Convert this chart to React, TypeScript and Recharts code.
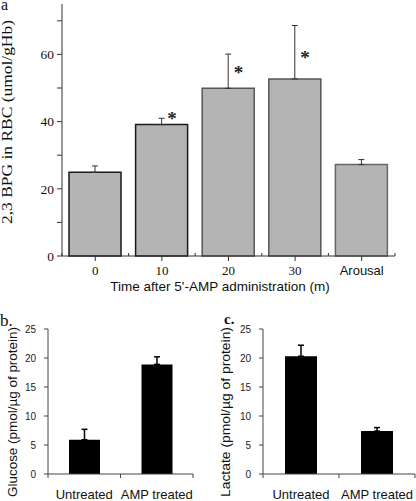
import { Bar, BarChart, Cell, ErrorBar, ReferenceDot, XAxis, YAxis } from 'recharts'

const serif = '"Liberation Serif", "Times New Roman", serif'
const sans = '"Liberation Sans", Arial, sans-serif'

// panel a: 2,3 BPG after 5'-AMP
const timeLabels = ['0', '10', '20', '30', 'Arousal']
const bpgValues = [24.9, 39.1, 49.9, 52.7, 27.2]
const bpgErrors = [1.9, 1.9, 10.2, 15.9, 1.5]
const bpgTicks = [0, 10, 20, 30, 40, 50, 60, 70]
const starLabels = ['10', '20', '30']
const starLevels = [41.9, 55.6, 60.1]

// panels b and c
const groupLabels = ['Untreated', 'AMP treated']
const glucoseValues = [5.9, 18.9]
const glucoseErrors = [1.8, 1.3]
const lactateValues = [20.3, 7.4]
const lactateErrors = [1.9, 0.6]
const pmolTicks = [0, 5, 10, 15, 20, 25]

const bpgOutline = ['#1a1a1a', '#1a1a1a', '#555', '#555', '#666']

// each category sits in the middle of a unit slot on a 0..n axis
const slot = (i: number) => i + 0.5
const bpgData = timeLabels.map((name, i) => ({ name, pos: slot(i), value: bpgValues[i], err: [0, bpgErrors[i]] }))
const glucoseData = groupLabels.map((name, i) => ({ name, pos: slot(i), value: glucoseValues[i], err: [0, glucoseErrors[i]] }))
const lactateData = groupLabels.map((name, i) => ({ name, pos: slot(i), value: lactateValues[i], err: [0, lactateErrors[i]] }))

// whole numbers = slot edges, halves = slot centres
const halfSteps = (n: number) => Array.from({ length: 2 * n + 1 }, (_, i) => i / 2)

function TimeTick(props: any) {
  const { x, y, payload } = props
  const v = payload.value
  if (Number.isInteger(v)) return <line x1={x} x2={x} y1={y} y2={y - 3} stroke="#333" />
  const label = timeLabels[Math.floor(v)]
  const numeric = /^\d+$/.test(label)
  return (
    <g>
      <line x1={x} x2={x} y1={y} y2={y + 5} stroke="#333" />
      <text x={x} y={y + 19} textAnchor="middle" fontFamily={numeric ? serif : sans} fontSize={13} fill="#111">
        {label}
      </text>
    </g>
  )
}

function GroupTick(props: any) {
  const { x, y, payload } = props
  const v = payload.value
  if (Number.isInteger(v)) return <line x1={x} x2={x} y1={y} y2={y + 4} stroke="#444" />
  return (
    <text x={x} y={y + 25} textAnchor="middle" fontFamily={sans} fontSize={13} fill="#111">
      {groupLabels[Math.floor(v)]}
    </text>
  )
}

function Star(props: any) {
  const { cx, cy } = props
  return (
    <text x={cx + 10} y={cy + 10} textAnchor="middle" fontFamily={serif} fontWeight="bold" fontSize={19} fill="#222">
      *
    </text>
  )
}

function PmolChart({ data, barSize, left, right }: { data: any[]; barSize: number; left: number; right: number }) {
  return (
    <BarChart width={208} height={201} data={data} margin={{ top: 29, right, bottom: 0, left }}>
      <XAxis
        dataKey="pos"
        type="number"
        domain={[0, groupLabels.length]}
        ticks={halfSteps(groupLabels.length)}
        interval={0}
        tickSize={0}
        tickMargin={0}
        tickLine={false}
        tick={<GroupTick />}
        height={27}
        axisLine={{ stroke: '#444' }}
      />
      <YAxis
        domain={[0, 25]}
        ticks={pmolTicks}
        interval={0}
        width={30}
        tickSize={4}
        tickMargin={8}
        tick={{ fontFamily: sans, fontSize: 10, fill: '#222' }}
        axisLine={{ stroke: '#444' }}
        tickLine={{ stroke: '#444' }}
      />
      <Bar dataKey="value" fill="#000" barSize={barSize} isAnimationActive={false}>
        <ErrorBar dataKey="err" direction="y" width={3} stroke="#000" strokeWidth={1.5} />
      </Bar>
    </BarChart>
  )
}

export default function App() {
  return (
    <div style={{ position: 'absolute', left: 0, top: 0, width: 416, height: 501, background: '#fff' }}>
      <div style={{ position: 'absolute', left: 0, top: 0 }}>
        <BarChart width={416} height={300} data={bpgData} margin={{ top: 4, right: 21, bottom: 0, left: 12 }}>
          <XAxis
            dataKey="pos"
            type="number"
            domain={[0, timeLabels.length]}
            ticks={halfSteps(timeLabels.length)}
            interval={0}
            tickSize={0}
            tickMargin={0}
            tickLine={false}
            tick={<TimeTick />}
            height={44}
            axisLine={{ stroke: '#333' }}
          />
          <YAxis
            domain={[0, 75]}
            ticks={bpgTicks}
            interval={0}
            width={50}
            tickSize={5}
            tickMargin={3}
            tickFormatter={(v: number) => (v % 20 === 0 ? String(v) : '')}
            tick={{ fontFamily: serif, fontSize: 13.5, fill: '#111' }}
            axisLine={{ stroke: '#333' }}
            tickLine={{ stroke: '#333' }}
          />
          <Bar dataKey="value" fill="#b4b4b4" strokeWidth={1.5} barSize={52} isAnimationActive={false}>
            {bpgData.map((d, i) => (
              <Cell key={d.name} stroke={bpgOutline[i]} />
            ))}
            <ErrorBar dataKey="err" direction="y" width={3} stroke="#333" strokeWidth={1} />
          </Bar>
          {starLabels.map((s, i) => (
            <ReferenceDot key={s} x={slot(timeLabels.indexOf(s))} y={starLevels[i]} shape={<Star />} />
          ))}
        </BarChart>
      </div>
      <div style={{ position: 'absolute', left: 0, top: 300 }}>
        <PmolChart data={glucoseData} barSize={31} left={18} right={15} />
      </div>
      <div style={{ position: 'absolute', left: 208, top: 300 }}>
        <PmolChart data={lactateData} barSize={32} left={25} right={1} />
      </div>
      <svg width={416} height={501} style={{ position: 'absolute', left: 0, top: 0, pointerEvents: 'none' }}>
        <text x={1} y={10} fontFamily={serif} fontSize={16} fill="#111">a</text>
        <text
          transform="translate(12,122) rotate(-90)"
          textAnchor="middle"
          fontFamily={serif}
          fontSize={14}
          textLength={204}
          lengthAdjust="spacingAndGlyphs"
          fill="#111"
        >
          2,3 BPG in RBC (umol/gHb)
        </text>
        <text x={220} y={291} textAnchor="middle" fontFamily={sans} fontSize={13.5} fill="#111">
          Time after 5'-AMP administration (m)
        </text>
        <text x={0} y={326} fontFamily={serif} fontSize={17} fill="#111">b.</text>
        <text
          transform="translate(16.5,412) rotate(-90)"
          textAnchor="middle"
          fontFamily={sans}
          fontSize={13}
          textLength={170}
          lengthAdjust="spacingAndGlyphs"
          fill="#111"
        >
          Glucose (pmol/µg of protein)
        </text>
        <text x={224} y={324} fontFamily={serif} fontWeight="bold" fontSize={15} fill="#111">c.</text>
        <text
          transform="translate(229.5,412) rotate(-90)"
          textAnchor="middle"
          fontFamily={sans}
          fontSize={13}
          textLength={170}
          lengthAdjust="spacingAndGlyphs"
          fill="#111"
        >
          Lactate (pmol/µg of protein)
        </text>
      </svg>
    </div>
  )
}
